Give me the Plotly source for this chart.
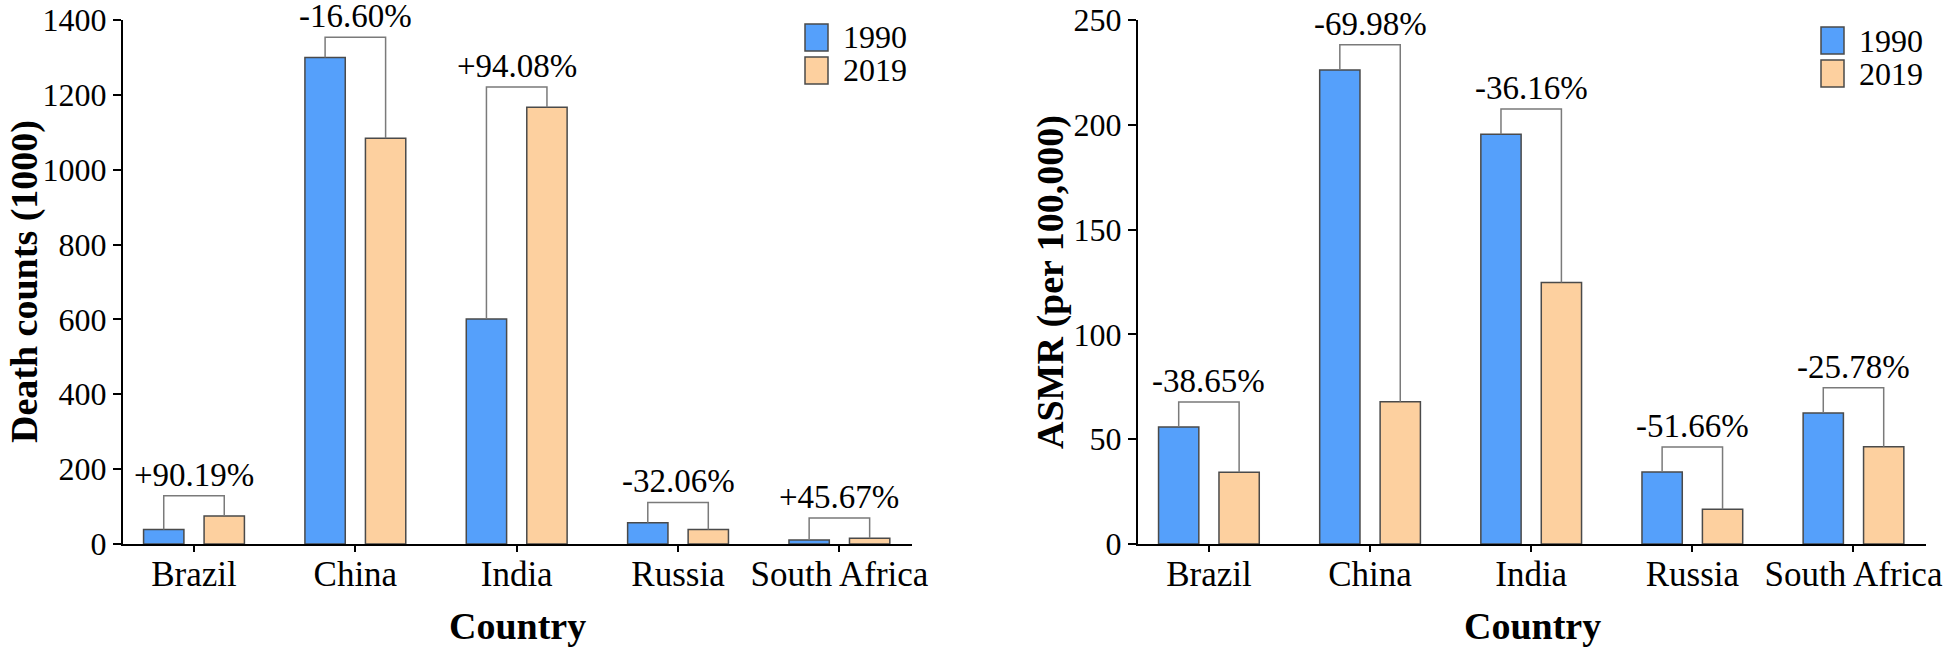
import plotly.graph_objects as go

countries = ['Brazil', 'China', 'India', 'Russia', 'South Africa']
years = ['1990', '2019']

# Death counts (1000)
deaths_1990 = [39, 1300, 601, 57, 10.5]
deaths_2019 = [75, 1084, 1167, 38.5, 15.5]
deaths_change = ['+90.19%', '-16.60%', '+94.08%', '-32.06%', '+45.67%']

# ASMR (per 100,000)
asmr_1990 = [55.8, 226.2, 195.5, 34.3, 62.5]
asmr_2019 = [34.2, 67.9, 124.8, 16.6, 46.4]
asmr_change = ['-38.65%', '-69.98%', '-36.16%', '-51.66%', '-25.78%']

W, H = 1944, 656
FONT = 'Times New Roman, Liberation Serif, serif'
BLUE = '#55A0FB'
PEACH = '#FDD09F'
EDGE = '#4a4a4a'
BRACKET = '#7a7a7a'
OFFSET = 0.1875  # half distance between the two bars of a group


def px(x):
    """Pixel x -> paper x."""
    return x / W


def py(y):
    """Pixel y (from top) -> paper y."""
    return (H - y) / H


fig = go.Figure()

panels = [
    dict(xa='x', ya='y', v1=deaths_1990, v2=deaths_2019, labels=deaths_change,
         pad=54, yrange=[0, 1400], dtick=200, dom=[px(123), px(912)],
         ytitle='Death counts (1000)', ytitle_x=24, legend_x=805, legend_y=24),
    dict(xa='x2', ya='y2', v1=asmr_1990, v2=asmr_2019, labels=asmr_change,
         pad=12, yrange=[0, 250], dtick=50, dom=[px(1138), px(1926)],
         ytitle='ASMR (per 100,000)', ytitle_x=1050, legend_x=1821, legend_y=27),
]

xs = list(range(len(countries)))
annotations = []
shapes = []

for p in panels:
    for vals, name, color in [(p['v1'], years[0], BLUE), (p['v2'], years[1], PEACH)]:
        fig.add_trace(go.Bar(
            x=xs, y=vals, name=name, xaxis=p['xa'], yaxis=p['ya'],
            marker=dict(color=color, line=dict(color=EDGE, width=1.5)),
            showlegend=False,
        ))

    # brackets between 1990 and 2019 bars
    bx, by = [], []
    for i, (a, b) in enumerate(zip(p['v1'], p['v2'])):
        top = max(a, b) + p['pad']
        bx += [i - OFFSET, i - OFFSET, i + OFFSET, i + OFFSET, None]
        by += [a, top, top, b, None]
        annotations.append(dict(
            x=i, y=top, xref=p['xa'], yref=p['ya'], text=p['labels'][i],
            showarrow=False, yanchor='middle', yshift=21,
            font=dict(family=FONT, size=33, color='black'),
        ))
    fig.add_trace(go.Scatter(
        x=bx, y=by, xaxis=p['xa'], yaxis=p['ya'], mode='lines',
        line=dict(color=BRACKET, width=1.5), showlegend=False, hoverinfo='skip',
    ))

    # axis titles
    annotations.append(dict(
        x=px(p['ytitle_x']), y=py(282), xref='paper', yref='paper',
        text='<b>' + p['ytitle'] + '</b>', textangle=-90, showarrow=False,
        xanchor='center', yanchor='middle',
        font=dict(family=FONT, size=38, color='black'),
    ))
    annotations.append(dict(
        x=(p['dom'][0] + p['dom'][1]) / 2, y=py(626), xref='paper', yref='paper',
        text='<b>Country</b>', showarrow=False, xanchor='center', yanchor='middle',
        font=dict(family=FONT, size=38, color='black'),
    ))

    # legend drawn by hand (large swatches)
    for k, (name, color) in enumerate([(years[0], BLUE), (years[1], PEACH)]):
        y0 = p['legend_y'] + k * 33
        shapes.append(dict(
            type='rect', xref='paper', yref='paper',
            x0=px(p['legend_x']), x1=px(p['legend_x'] + 23),
            y0=py(y0), y1=py(y0 + 27),
            fillcolor=color, line=dict(color=EDGE, width=1.5),
        ))
        annotations.append(dict(
            x=px(p['legend_x'] + 36), y=py(y0 + 13.5), xref='paper', yref='paper',
            text=name, showarrow=False, xanchor='left', yanchor='middle',
            font=dict(family=FONT, size=32, color='black'),
        ))

xaxis_common = dict(
    tickmode='array', tickvals=xs, ticktext=countries, range=[-0.44, 4.45],
    showline=True, linecolor='black', linewidth=2, ticks='outside',
    ticklen=6, tickwidth=2, tickcolor='black', showgrid=False, zeroline=False,
    tickfont=dict(family=FONT, size=35, color='black'), automargin=False,
    ticklabelstandoff=-8,
)
yaxis_common = dict(
    showline=True, linecolor='black', linewidth=2, ticks='outside',
    ticklen=8, tickwidth=2, tickcolor='black', showgrid=False, zeroline=False,
    tickfont=dict(family=FONT, size=32, color='black'), automargin=False,
    domain=[py(544), py(20)], ticklabeloverflow='allow',
)

fig.update_layout(
    width=W, height=H,
    margin=dict(l=0, r=0, t=0, b=0),
    paper_bgcolor='white', plot_bgcolor='white',
    barmode='group', bargap=0.25, bargroupgap=1 / 3,
    xaxis=dict(xaxis_common, domain=panels[0]['dom'], anchor='y'),
    xaxis2=dict(xaxis_common, domain=panels[1]['dom'], anchor='y2'),
    yaxis=dict(yaxis_common, range=panels[0]['yrange'], dtick=panels[0]['dtick'], anchor='x'),
    yaxis2=dict(yaxis_common, range=panels[1]['yrange'], dtick=panels[1]['dtick'], anchor='x2'),
    annotations=annotations,
    shapes=shapes,
    showlegend=False,
)

# drop the browser's default body margin so the figure fills the window
fig.write_html(
    'out.html',
    config={'displayModeBar': False},
    post_script="document.body.style.margin = '0';",
)
